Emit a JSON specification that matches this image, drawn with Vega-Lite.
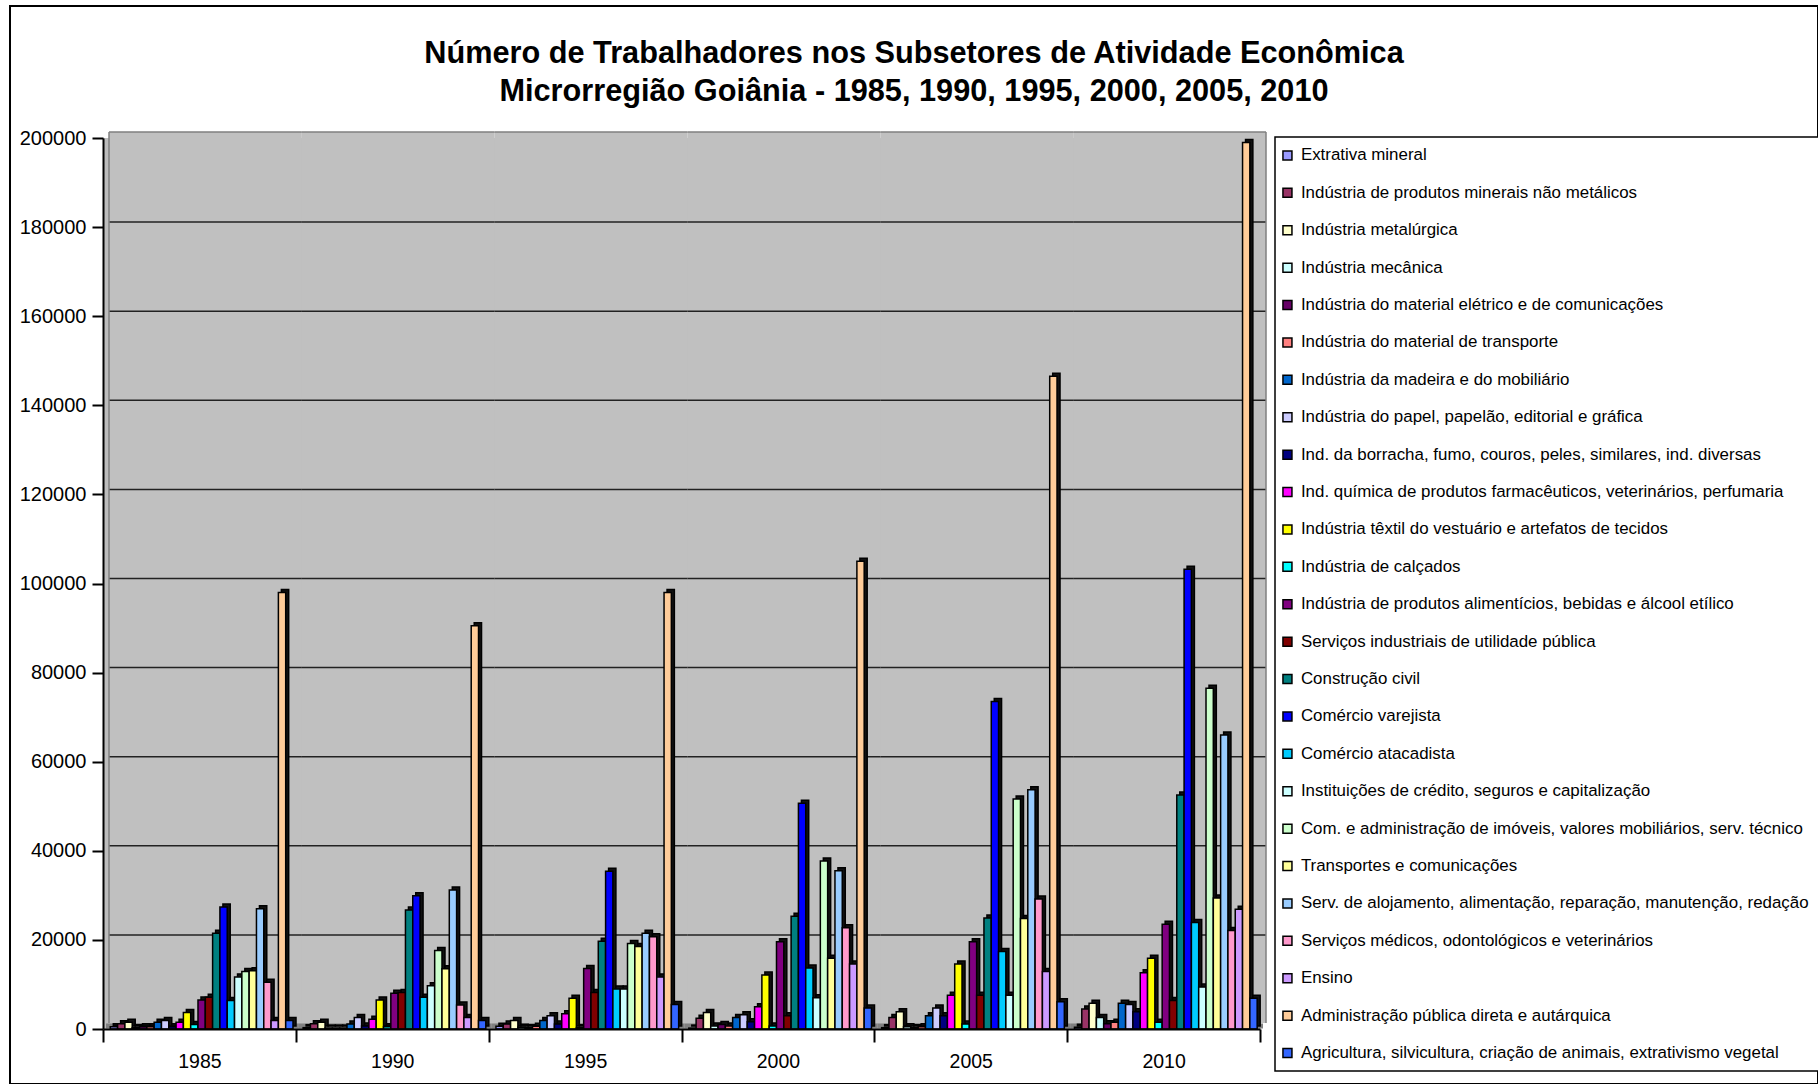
{"$schema":"https://vega.github.io/schema/vega-lite/v6.json","autosize":{"type":"none"},"padding":{"left":10,"top":6,"right":0,"bottom":0},"width":1808,"height":1078,"background":"white","view":{"stroke":"#000","strokeWidth":2,"fill":"white"},
"title":{"text":["Número de Trabalhadores nos Subsetores de Atividade Econômica","Microrregião Goiânia - 1985, 1990, 1995, 2000, 2005, 2010"],"font":"Liberation Sans","fontSize":30.7,"fontWeight":"bold","color":"#000","anchor":"middle","frame":"group","lineHeight":38,"offset":-102},
"config":{"font":"Liberation Sans","legend":{"strokeWidth":1.5}},
"datasets":{
"anos":[{"ano":"1985"},{"ano":"1990"},{"ano":"1995"},{"ano":"2000"},{"ano":"2005"},{"ano":"2010"}],
"grade":[{"ano":"1985","v":20000},{"ano":"1990","v":20000},{"ano":"1995","v":20000},{"ano":"2000","v":20000},{"ano":"2005","v":20000},{"ano":"2010","v":20000},{"ano":"1985","v":40000},{"ano":"1990","v":40000},{"ano":"1995","v":40000},{"ano":"2000","v":40000},{"ano":"2005","v":40000},{"ano":"2010","v":40000},{"ano":"1985","v":60000},{"ano":"1990","v":60000},{"ano":"1995","v":60000},{"ano":"2000","v":60000},{"ano":"2005","v":60000},{"ano":"2010","v":60000},{"ano":"1985","v":80000},{"ano":"1990","v":80000},{"ano":"1995","v":80000},{"ano":"2000","v":80000},{"ano":"2005","v":80000},{"ano":"2010","v":80000},{"ano":"1985","v":100000},{"ano":"1990","v":100000},{"ano":"1995","v":100000},{"ano":"2000","v":100000},{"ano":"2005","v":100000},{"ano":"2010","v":100000},{"ano":"1985","v":120000},{"ano":"1990","v":120000},{"ano":"1995","v":120000},{"ano":"2000","v":120000},{"ano":"2005","v":120000},{"ano":"2010","v":120000},{"ano":"1985","v":140000},{"ano":"1990","v":140000},{"ano":"1995","v":140000},{"ano":"2000","v":140000},{"ano":"2005","v":140000},{"ano":"2010","v":140000},{"ano":"1985","v":160000},{"ano":"1990","v":160000},{"ano":"1995","v":160000},{"ano":"2000","v":160000},{"ano":"2005","v":160000},{"ano":"2010","v":160000},{"ano":"1985","v":180000},{"ano":"1990","v":180000},{"ano":"1995","v":180000},{"ano":"2000","v":180000},{"ano":"2005","v":180000},{"ano":"2010","v":180000}],
"dados":[
{"ano":"1985","setor":"Extrativa mineral","n":500},{"ano":"1990","setor":"Extrativa mineral","n":300},{"ano":"1995","setor":"Extrativa mineral","n":600},{"ano":"2000","setor":"Extrativa mineral","n":200},{"ano":"2005","setor":"Extrativa mineral","n":300},{"ano":"2010","setor":"Extrativa mineral","n":400},
{"ano":"1985","setor":"Indústria de produtos minerais não metálicos","n":1200},{"ano":"1990","setor":"Indústria de produtos minerais não metálicos","n":1200},{"ano":"1995","setor":"Indústria de produtos minerais não metálicos","n":1100},{"ano":"2000","setor":"Indústria de produtos minerais não metálicos","n":2400},{"ano":"2005","setor":"Indústria de produtos minerais não metálicos","n":2600},{"ano":"2010","setor":"Indústria de produtos minerais não metálicos","n":4500},
{"ano":"1985","setor":"Indústria metalúrgica","n":1500},{"ano":"1990","setor":"Indústria metalúrgica","n":1500},{"ano":"1995","setor":"Indústria metalúrgica","n":1900},{"ano":"2000","setor":"Indústria metalúrgica","n":3700},{"ano":"2005","setor":"Indústria metalúrgica","n":3900},{"ano":"2010","setor":"Indústria metalúrgica","n":5800},
{"ano":"1985","setor":"Indústria mecânica","n":300},{"ano":"1990","setor":"Indústria mecânica","n":200},{"ano":"1995","setor":"Indústria mecânica","n":400},{"ano":"2000","setor":"Indústria mecânica","n":700},{"ano":"2005","setor":"Indústria mecânica","n":500},{"ano":"2010","setor":"Indústria mecânica","n":2600},
{"ano":"1985","setor":"Indústria do material elétrico e de comunicações","n":500},{"ano":"1990","setor":"Indústria do material elétrico e de comunicações","n":200},{"ano":"1995","setor":"Indústria do material elétrico e de comunicações","n":300},{"ano":"2000","setor":"Indústria do material elétrico e de comunicações","n":1000},{"ano":"2005","setor":"Indústria do material elétrico e de comunicações","n":300},{"ano":"2010","setor":"Indústria do material elétrico e de comunicações","n":1200},
{"ano":"1985","setor":"Indústria do material de transporte","n":500},{"ano":"1990","setor":"Indústria do material de transporte","n":200},{"ano":"1995","setor":"Indústria do material de transporte","n":600},{"ano":"2000","setor":"Indústria do material de transporte","n":700},{"ano":"2005","setor":"Indústria do material de transporte","n":500},{"ano":"2010","setor":"Indústria do material de transporte","n":1500},
{"ano":"1985","setor":"Indústria da madeira e do mobiliário","n":1500},{"ano":"1990","setor":"Indústria da madeira e do mobiliário","n":1100},{"ano":"1995","setor":"Indústria da madeira e do mobiliário","n":1900},{"ano":"2000","setor":"Indústria da madeira e do mobiliário","n":2600},{"ano":"2005","setor":"Indústria da madeira e do mobiliário","n":3000},{"ano":"2010","setor":"Indústria da madeira e do mobiliário","n":5800},
{"ano":"1985","setor":"Indústria do papel, papelão, editorial e gráfica","n":1900},{"ano":"1990","setor":"Indústria do papel, papelão, editorial e gráfica","n":2600},{"ano":"1995","setor":"Indústria do papel, papelão, editorial e gráfica","n":3000},{"ano":"2000","setor":"Indústria do papel, papelão, editorial e gráfica","n":3200},{"ano":"2005","setor":"Indústria do papel, papelão, editorial e gráfica","n":4700},{"ano":"2010","setor":"Indústria do papel, papelão, editorial e gráfica","n":5500},
{"ano":"1985","setor":"Ind. da borracha, fumo, couros, peles, similares, ind. diversas","n":500},{"ano":"1990","setor":"Ind. da borracha, fumo, couros, peles, similares, ind. diversas","n":700},{"ano":"1995","setor":"Ind. da borracha, fumo, couros, peles, similares, ind. diversas","n":1100},{"ano":"2000","setor":"Ind. da borracha, fumo, couros, peles, similares, ind. diversas","n":1600},{"ano":"2005","setor":"Ind. da borracha, fumo, couros, peles, similares, ind. diversas","n":3000},{"ano":"2010","setor":"Ind. da borracha, fumo, couros, peles, similares, ind. diversas","n":3900},
{"ano":"1985","setor":"Ind. química de produtos farmacêuticos, veterinários, perfumaria","n":1500},{"ano":"1990","setor":"Ind. química de produtos farmacêuticos, veterinários, perfumaria","n":2200},{"ano":"1995","setor":"Ind. química de produtos farmacêuticos, veterinários, perfumaria","n":3400},{"ano":"2000","setor":"Ind. química de produtos farmacêuticos, veterinários, perfumaria","n":5000},{"ano":"2005","setor":"Ind. química de produtos farmacêuticos, veterinários, perfumaria","n":7600},{"ano":"2010","setor":"Ind. química de produtos farmacêuticos, veterinários, perfumaria","n":12600},
{"ano":"1985","setor":"Indústria têxtil do vestuário e artefatos de tecidos","n":3700},{"ano":"1990","setor":"Indústria têxtil do vestuário e artefatos de tecidos","n":6500},{"ano":"1995","setor":"Indústria têxtil do vestuário e artefatos de tecidos","n":6900},{"ano":"2000","setor":"Indústria têxtil do vestuário e artefatos de tecidos","n":12100},{"ano":"2005","setor":"Indústria têxtil do vestuário e artefatos de tecidos","n":14600},{"ano":"2010","setor":"Indústria têxtil do vestuário e artefatos de tecidos","n":15900},
{"ano":"1985","setor":"Indústria de calçados","n":1000},{"ano":"1990","setor":"Indústria de calçados","n":500},{"ano":"1995","setor":"Indústria de calçados","n":300},{"ano":"2000","setor":"Indústria de calçados","n":700},{"ano":"2005","setor":"Indústria de calçados","n":1100},{"ano":"2010","setor":"Indústria de calçados","n":1500},
{"ano":"1985","setor":"Indústria de produtos alimentícios, bebidas e álcool etílico","n":6500},{"ano":"1990","setor":"Indústria de produtos alimentícios, bebidas e álcool etílico","n":8000},{"ano":"1995","setor":"Indústria de produtos alimentícios, bebidas e álcool etílico","n":13600},{"ano":"2000","setor":"Indústria de produtos alimentícios, bebidas e álcool etílico","n":19600},{"ano":"2005","setor":"Indústria de produtos alimentícios, bebidas e álcool etílico","n":19600},{"ano":"2010","setor":"Indústria de produtos alimentícios, bebidas e álcool etílico","n":23500},
{"ano":"1985","setor":"Serviços industriais de utilidade pública","n":7100},{"ano":"1990","setor":"Serviços industriais de utilidade pública","n":8200},{"ano":"1995","setor":"Serviços industriais de utilidade pública","n":8200},{"ano":"2000","setor":"Serviços industriais de utilidade pública","n":3000},{"ano":"2005","setor":"Serviços industriais de utilidade pública","n":7600},{"ano":"2010","setor":"Serviços industriais de utilidade pública","n":6400},
{"ano":"1985","setor":"Construção civil","n":21500},{"ano":"1990","setor":"Construção civil","n":26700},{"ano":"1995","setor":"Construção civil","n":19700},{"ano":"2000","setor":"Construção civil","n":25300},{"ano":"2005","setor":"Construção civil","n":24900},{"ano":"2010","setor":"Construção civil","n":52500},
{"ano":"1985","setor":"Comércio varejista","n":27400},{"ano":"1990","setor":"Comércio varejista","n":29900},{"ano":"1995","setor":"Comércio varejista","n":35400},{"ano":"2000","setor":"Comércio varejista","n":50700},{"ano":"2005","setor":"Comércio varejista","n":73500},{"ano":"2010","setor":"Comércio varejista","n":103200},
{"ano":"1985","setor":"Comércio atacadista","n":6400},{"ano":"1990","setor":"Comércio atacadista","n":7100},{"ano":"1995","setor":"Comércio atacadista","n":9000},{"ano":"2000","setor":"Comércio atacadista","n":13700},{"ano":"2005","setor":"Comércio atacadista","n":17400},{"ano":"2010","setor":"Comércio atacadista","n":23900},
{"ano":"1985","setor":"Instituições de crédito, seguros e capitalização","n":11700},{"ano":"1990","setor":"Instituições de crédito, seguros e capitalização","n":9700},{"ano":"1995","setor":"Instituições de crédito, seguros e capitalização","n":9000},{"ano":"2000","setor":"Instituições de crédito, seguros e capitalização","n":7000},{"ano":"2005","setor":"Instituições de crédito, seguros e capitalização","n":7600},{"ano":"2010","setor":"Instituições de crédito, seguros e capitalização","n":9400},
{"ano":"1985","setor":"Com. e administração de imóveis, valores mobiliários, serv. técnico","n":12900},{"ano":"1990","setor":"Com. e administração de imóveis, valores mobiliários, serv. técnico","n":17600},{"ano":"1995","setor":"Com. e administração de imóveis, valores mobiliários, serv. técnico","n":19200},{"ano":"2000","setor":"Com. e administração de imóveis, valores mobiliários, serv. técnico","n":37700},{"ano":"2005","setor":"Com. e administração de imóveis, valores mobiliários, serv. técnico","n":51600},{"ano":"2010","setor":"Com. e administração de imóveis, valores mobiliários, serv. técnico","n":76500},
{"ano":"1985","setor":"Transportes e comunicações","n":13100},{"ano":"1990","setor":"Transportes e comunicações","n":13500},{"ano":"1995","setor":"Transportes e comunicações","n":18500},{"ano":"2000","setor":"Transportes e comunicações","n":15900},{"ano":"2005","setor":"Transportes e comunicações","n":24800},{"ano":"2010","setor":"Transportes e comunicações","n":29400},
{"ano":"1985","setor":"Serv. de alojamento, alimentação, reparação, manutenção, redação","n":27000},{"ano":"1990","setor":"Serv. de alojamento, alimentação, reparação, manutenção, redação","n":31200},{"ano":"1995","setor":"Serv. de alojamento, alimentação, reparação, manutenção, redação","n":21500},{"ano":"2000","setor":"Serv. de alojamento, alimentação, reparação, manutenção, redação","n":35500},{"ano":"2005","setor":"Serv. de alojamento, alimentação, reparação, manutenção, redação","n":53700},{"ano":"2010","setor":"Serv. de alojamento, alimentação, reparação, manutenção, redação","n":66000},
{"ano":"1985","setor":"Serviços médicos, odontológicos e veterinários","n":10500},{"ano":"1990","setor":"Serviços médicos, odontológicos e veterinários","n":5400},{"ano":"1995","setor":"Serviços médicos, odontológicos e veterinários","n":20700},{"ano":"2000","setor":"Serviços médicos, odontológicos e veterinários","n":22700},{"ano":"2005","setor":"Serviços médicos, odontológicos e veterinários","n":29200},{"ano":"2010","setor":"Serviços médicos, odontológicos e veterinários","n":22100},
{"ano":"1985","setor":"Ensino","n":1900},{"ano":"1990","setor":"Ensino","n":2600},{"ano":"1995","setor":"Ensino","n":11700},{"ano":"2000","setor":"Ensino","n":14600},{"ano":"2005","setor":"Ensino","n":12900},{"ano":"2010","setor":"Ensino","n":26900},
{"ano":"1985","setor":"Administração pública direta e autárquica","n":98000},{"ano":"1990","setor":"Administração pública direta e autárquica","n":90500},{"ano":"1995","setor":"Administração pública direta e autárquica","n":98000},{"ano":"2000","setor":"Administração pública direta e autárquica","n":105000},{"ano":"2005","setor":"Administração pública direta e autárquica","n":146500},{"ano":"2010","setor":"Administração pública direta e autárquica","n":199000},
{"ano":"1985","setor":"Agricultura, silvicultura, criação de animais, extrativismo vegetal","n":1900},{"ano":"1990","setor":"Agricultura, silvicultura, criação de animais, extrativismo vegetal","n":1900},{"ano":"1995","setor":"Agricultura, silvicultura, criação de animais, extrativismo vegetal","n":5500},{"ano":"2000","setor":"Agricultura, silvicultura, criação de animais, extrativismo vegetal","n":4700},{"ano":"2005","setor":"Agricultura, silvicultura, criação de animais, extrativismo vegetal","n":6100},{"ano":"2010","setor":"Agricultura, silvicultura, criação de animais, extrativismo vegetal","n":6900}
]},
"resolve":{"scale":{"x":"shared","y":"shared","xOffset":"independent"}},
"layer":[
{"data":{"name":"anos"},"mark":{"type":"rect","fill":"#BDBDBD","stroke":null},"encoding":{"x":{"field":"ano","type":"nominal","sort":null,"scale":{"range":[93,1250],"paddingInner":0,"paddingOuter":0},"axis":{"title":null,"orient":"bottom","offset":-55,"zindex":1,"domainColor":"#000","domainWidth":2,"tickColor":"#000","tickWidth":2,"tickSize":13,"tickBand":"extent","labelAngle":0,"labelFontSize":19.5,"labelFont":"Liberation Sans","labelColor":"#000","labelPadding":10,"grid":false}},"y":{"datum":0,"type":"quantitative","scale":{"domain":[0,200000],"nice":false,"range":[1023,132]},"axis":{"title":null,"orient":"left","offset":-93,"zindex":1,"values":[0,20000,40000,60000,80000,100000,120000,140000,160000,180000,200000],"format":"d","domainColor":"#000","domainWidth":2,"tickColor":"#000","tickWidth":2,"tickSize":11,"labelFontSize":20,"labelFont":"Liberation Sans","labelColor":"#000","labelPadding":6,"grid":false}},"y2":{"datum":200000}}},
{"data":{"name":"anos"},"mark":{"type":"rect","fill":"#C0C0C0","stroke":null,"xOffset":6,"x2Offset":6,"yOffset":-6,"y2Offset":-6},"encoding":{"x":{"field":"ano","type":"nominal","sort":null},"y":{"datum":0,"type":"quantitative"},"y2":{"datum":200000}}},
{"data":{"name":"grade"},"mark":{"type":"rect","fill":null,"stroke":"#222","strokeWidth":1.5,"xOffset":6,"x2Offset":6,"yOffset":-5,"y2Offset":-5},"encoding":{"x":{"field":"ano","type":"nominal","sort":null},"y":{"field":"v","type":"quantitative"},"y2":{"field":"v"}}},
{"data":{"name":"anos"},"mark":{"type":"rect","fill":null,"stroke":"#808080","strokeWidth":1.5,"xOffset":6,"x2Offset":6,"yOffset":-6,"y2Offset":-6},"encoding":{"x":{"field":"ano","type":"nominal","sort":null},"y":{"datum":200000,"type":"quantitative"},"y2":{"datum":200000}}},
{"data":{"values":[{"ano":"1985"}]},"mark":{"type":"rule","stroke":"#808080","strokeWidth":1.5,"xOffset":6,"yOffset":-6,"y2Offset":-6},"encoding":{"x":{"field":"ano","type":"nominal","sort":null,"bandPosition":0},"y":{"datum":0,"type":"quantitative"},"y2":{"datum":200000}}},
{"data":{"values":[{"ano":"2010"}]},"mark":{"type":"rule","stroke":"#808080","strokeWidth":1.5,"xOffset":6,"yOffset":-6,"y2Offset":-6},"encoding":{"x":{"field":"ano","type":"nominal","sort":null,"bandPosition":1},"y":{"datum":0,"type":"quantitative"},"y2":{"datum":200000}}},
{"data":{"name":"anos"},"mark":{"type":"rect","fill":null,"stroke":"#808080","strokeWidth":5,"xOffset":3,"x2Offset":3,"yOffset":-3,"y2Offset":-3},"encoding":{"x":{"field":"ano","type":"nominal","sort":null},"y":{"datum":0,"type":"quantitative"},"y2":{"datum":0}}},
{"data":{"name":"dados"},"mark":{"type":"bar","fill":"#111","stroke":"#000","strokeWidth":1.5,"yOffset":-3,"y2Offset":-3},"encoding":{"x":{"field":"ano","type":"nominal","sort":null},"xOffset":{"field":"setor","type":"nominal","scale":{"paddingInner":0,"paddingOuter":0,"range":[10.3,193],"domain":["Extrativa mineral","Indústria de produtos minerais não metálicos","Indústria metalúrgica","Indústria mecânica","Indústria do material elétrico e de comunicações","Indústria do material de transporte","Indústria da madeira e do mobiliário","Indústria do papel, papelão, editorial e gráfica","Ind. da borracha, fumo, couros, peles, similares, ind. diversas","Ind. química de produtos farmacêuticos, veterinários, perfumaria","Indústria têxtil do vestuário e artefatos de tecidos","Indústria de calçados","Indústria de produtos alimentícios, bebidas e álcool etílico","Serviços industriais de utilidade pública","Construção civil","Comércio varejista","Comércio atacadista","Instituições de crédito, seguros e capitalização","Com. e administração de imóveis, valores mobiliários, serv. técnico","Transportes e comunicações","Serv. de alojamento, alimentação, reparação, manutenção, redação","Serviços médicos, odontológicos e veterinários","Ensino","Administração pública direta e autárquica","Agricultura, silvicultura, criação de animais, extrativismo vegetal"]}},"y":{"field":"n","type":"quantitative"}}},
{"data":{"name":"dados"},"mark":{"type":"bar","stroke":"#000","strokeWidth":1.5},"encoding":{"x":{"field":"ano","type":"nominal","sort":null},"xOffset":{"field":"setor","type":"nominal","scale":{"paddingInner":0,"paddingOuter":0,"range":[7.3,190],"domain":["Extrativa mineral","Indústria de produtos minerais não metálicos","Indústria metalúrgica","Indústria mecânica","Indústria do material elétrico e de comunicações","Indústria do material de transporte","Indústria da madeira e do mobiliário","Indústria do papel, papelão, editorial e gráfica","Ind. da borracha, fumo, couros, peles, similares, ind. diversas","Ind. química de produtos farmacêuticos, veterinários, perfumaria","Indústria têxtil do vestuário e artefatos de tecidos","Indústria de calçados","Indústria de produtos alimentícios, bebidas e álcool etílico","Serviços industriais de utilidade pública","Construção civil","Comércio varejista","Comércio atacadista","Instituições de crédito, seguros e capitalização","Com. e administração de imóveis, valores mobiliários, serv. técnico","Transportes e comunicações","Serv. de alojamento, alimentação, reparação, manutenção, redação","Serviços médicos, odontológicos e veterinários","Ensino","Administração pública direta e autárquica","Agricultura, silvicultura, criação de animais, extrativismo vegetal"]}},"y":{"field":"n","type":"quantitative"},"color":{"field":"setor","type":"nominal","scale":{"domain":["Extrativa mineral","Indústria de produtos minerais não metálicos","Indústria metalúrgica","Indústria mecânica","Indústria do material elétrico e de comunicações","Indústria do material de transporte","Indústria da madeira e do mobiliário","Indústria do papel, papelão, editorial e gráfica","Ind. da borracha, fumo, couros, peles, similares, ind. diversas","Ind. química de produtos farmacêuticos, veterinários, perfumaria","Indústria têxtil do vestuário e artefatos de tecidos","Indústria de calçados","Indústria de produtos alimentícios, bebidas e álcool etílico","Serviços industriais de utilidade pública","Construção civil","Comércio varejista","Comércio atacadista","Instituições de crédito, seguros e capitalização","Com. e administração de imóveis, valores mobiliários, serv. técnico","Transportes e comunicações","Serv. de alojamento, alimentação, reparação, manutenção, redação","Serviços médicos, odontológicos e veterinários","Ensino","Administração pública direta e autárquica","Agricultura, silvicultura, criação de animais, extrativismo vegetal"],"range":["#9999FF","#993366","#FFFFCC","#CCFFFF","#660066","#FF8080","#0066CC","#CCCCFF","#000080","#FF00FF","#FFFF00","#00FFFF","#800080","#800000","#008080","#0000FF","#00CCFF","#CCFFFF","#CCFFCC","#FFFF99","#99CCFF","#FF99CC","#CC99FF","#FFCC99","#3366FF"]},"legend":{"title":null,"orient":"none","legendX":1265,"legendY":131,"padding":10,"fillColor":"#fff","strokeColor":"#000","symbolType":"square","symbolSize":81,"symbolOffset":-6,"symbolStrokeColor":"#000","symbolStrokeWidth":1.5,"labelFont":"Liberation Sans","labelFontSize":16.9,"labelColor":"#000","labelLimit":620,"labelOffset":5,"rowPadding":19.4,"columnPadding":0}}}}
]}
